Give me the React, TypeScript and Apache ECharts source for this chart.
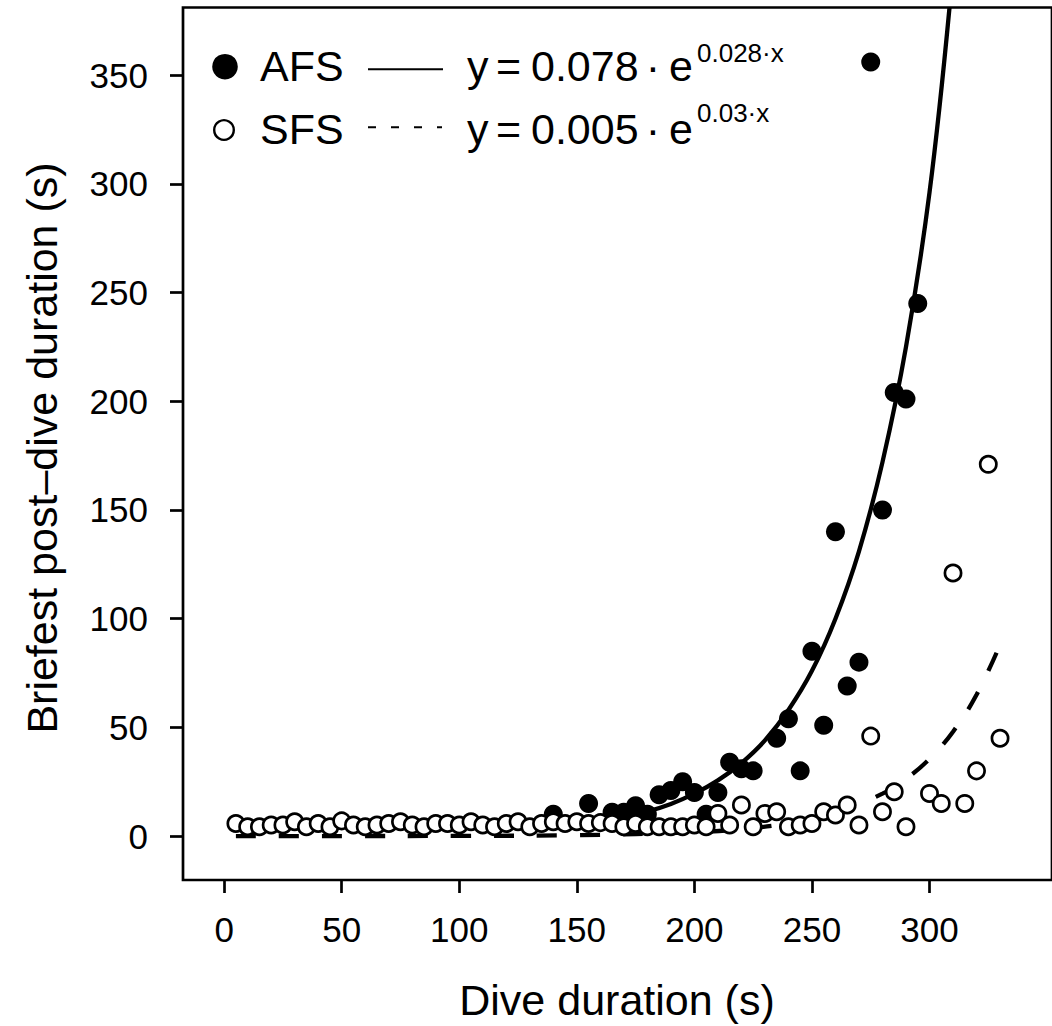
import React, { useEffect, useRef } from "react";
import * as echarts from "echarts";

// ---- data ----
const xTicks = [0, 50, 100, 150, 200, 250, 300];
const yTicks = [0, 50, 100, 150, 200, 250, 300, 350];

const afsDuration = [140, 155, 165, 170, 175, 180, 185, 190, 195, 200, 205, 210, 215, 220, 225, 235, 240, 245, 250, 255, 260, 265, 270, 275, 280, 285, 290, 295];
const afsPost = [10, 15, 11, 11, 14, 10, 19, 21, 25, 20, 10, 20, 34, 31, 30, 45, 54, 30, 85, 51, 140, 69, 80, 356, 150, 204, 201, 245];

const sfsDuration = [5, 10, 15, 20, 25, 30, 35, 40, 45, 50, 55, 60, 65, 70, 75, 80, 85, 90, 95, 100, 105, 110, 115, 120, 125, 130, 135, 140, 145, 150, 155, 160, 165, 170, 175, 180, 185, 190, 195, 200, 205, 210, 215, 220, 225, 230, 235, 240, 245, 250, 255, 260, 265, 270, 275, 280, 285, 290, 300, 305, 310, 315, 320, 325, 330];
const sfsPost = [5.8, 4.3, 4.3, 5.1, 5.1, 6.6, 4.3, 5.8, 4.3, 7.0, 5.1, 4.3, 5.1, 5.8, 6.6, 5.1, 4.3, 5.8, 5.8, 5.1, 6.6, 5.1, 4.3, 5.8, 6.6, 4.3, 5.8, 6.6, 5.8, 6.6, 5.8, 6.2, 5.8, 4.3, 5.8, 4.3, 4.3, 4.3, 4.3, 5.1, 4.3, 10.4, 5.1, 14.3, 4.3, 10.4, 11.2, 4.3, 5.1, 5.8, 11.2, 9.7, 14.3, 5.1, 46, 11.2, 20.4, 4.3, 19.6, 15, 121, 15, 30, 171, 45];

// fitted curves
const afsFitX = [140, 150, 160, 170, 180, 190, 200, 210, 220, 230, 240, 250, 260, 270, 280, 290, 300, 308.5];
const afsFitY = [3.8, 5.0, 6.6, 8.7, 11.3, 14.8, 19.5, 25.6, 33.6, 44, 58, 76, 100, 131, 172, 225, 296, 381];
const sfsFitX = [5, 50, 100, 150, 200, 220, 240, 260, 280, 290, 300, 310, 320, 330];
const sfsFitY = [0, 0.02, 0.09, 0.4, 1.8, 3.2, 5.9, 10.7, 19.5, 26.3, 35.5, 48, 65, 88];

const legendLabels = ["AFS", "SFS"];
const legendCoef = ["0.078", "0.005"];
const legendExp = ["0.028·x", "0.03·x"];

const FONT = '"Liberation Sans", Arial, Helvetica, sans-serif';

export default function App() {
  const ref = useRef<HTMLDivElement>(null);

  useEffect(() => {
    document.body.style.margin = "0";
    if (!ref.current) return;
    const chart = echarts.init(ref.current, undefined, { renderer: "svg" });

    const zip = (xs: number[], ys: number[]) => xs.map((x, i) => [x, ys[i]]);

    const rowCap = [65.5, 128.7];
    const rowSup = [52.5, 112.5];

    const legendGraphics: any[] = [];
    legendGraphics.push({
      type: "circle",
      shape: { cx: 225, cy: 66.7, r: 12.8 },
      style: { fill: "#000" },
    });
    legendGraphics.push({
      type: "circle",
      shape: { cx: 224, cy: 130, r: 9.8 },
      style: { fill: "#fff", stroke: "#000", lineWidth: 2.4 },
    });
    legendGraphics.push({
      type: "line",
      shape: { x1: 368, y1: 69.3, x2: 443, y2: 69.3 },
      style: { stroke: "#000", lineWidth: 2 },
    });
    legendGraphics.push({
      type: "line",
      shape: { x1: 368, y1: 127.3, x2: 442, y2: 127.3 },
      style: { stroke: "#000", lineWidth: 2, lineDash: [8, 15] },
    });
    const txt = (text: string, x: number, y: number, size: number, align = "left") => ({
      type: "text",
      style: {
        text,
        x,
        y,
        fontSize: size,
        fontFamily: FONT,
        fill: "#000",
        align,
        verticalAlign: "middle",
      },
    });
    for (let i = 0; i < 2; i++) {
      legendGraphics.push(txt(legendLabels[i], 260, rowCap[i], 43));
      legendGraphics.push(txt("y", 467, rowCap[i], 43));
      legendGraphics.push(txt("=", 496, rowCap[i], 43));
      legendGraphics.push(txt(legendCoef[i], 531, rowCap[i], 43));
      legendGraphics.push(txt("·", 653, rowCap[i], 43, "center"));
      legendGraphics.push(txt("e", 669, rowCap[i], 43));
      legendGraphics.push(txt(legendExp[i], 697, rowSup[i], 26));
    }

    const option: any = {
      animation: false,
      backgroundColor: "#fff",
      grid: {
        left: 183,
        right: -1,
        top: 7.5,
        bottom: 146,
        show: true,
        borderColor: "#000",
        borderWidth: 2.7,
        backgroundColor: "transparent",
        containLabel: false,
      },
      xAxis: {
        type: "value",
        min: -17.5,
        max: 352.1,
        axisLine: { show: false, onZero: false },
        splitLine: { show: false },
        axisTick: {
          show: true,
          length: 13,
          inside: false,
          customValues: xTicks,
          lineStyle: { color: "#000", width: 2.7 },
        },
        axisLabel: {
          customValues: xTicks,
          fontSize: 35,
          fontFamily: FONT,
          color: "#000",
          margin: 49,
          verticalAlign: "middle",
        },
      },
      yAxis: {
        type: "value",
        min: -20.2,
        max: 381.1,
        axisLine: { show: false, onZero: false },
        splitLine: { show: false },
        axisTick: {
          show: true,
          length: 13,
          inside: false,
          customValues: yTicks,
          lineStyle: { color: "#000", width: 2.7 },
        },
        axisLabel: {
          customValues: yTicks,
          fontSize: 35,
          fontFamily: FONT,
          color: "#000",
          margin: 35,
        },
      },
      series: [
        {
          type: "line",
          data: zip(afsFitX, afsFitY),
          smooth: 0.4,
          showSymbol: false,
          symbol: "none",
          lineStyle: { color: "#000", width: 4.3 },
          clip: true,
          z: 2,
        },
        {
          type: "line",
          data: zip(sfsFitX, sfsFitY),
          smooth: 0.4,
          showSymbol: false,
          symbol: "none",
          lineStyle: { color: "#000", width: 4.3, type: [20, 23] },
          clip: true,
          z: 2,
        },
        {
          type: "scatter",
          data: zip(afsDuration, afsPost),
          symbol: "circle",
          symbolSize: 19,
          itemStyle: { color: "#000", opacity: 1 },
          z: 3,
        },
        {
          type: "scatter",
          data: zip(sfsDuration, sfsPost),
          symbol: "circle",
          symbolSize: 16.2,
          itemStyle: { color: "#fff", borderColor: "#000", borderWidth: 2.7, opacity: 1 },
          z: 4,
        },
      ],
      graphic: [
        ...legendGraphics,
        {
          type: "text",
          style: {
            text: "Dive duration (s)",
            x: 617,
            y: 1000,
            fontSize: 43,
            fontFamily: FONT,
            fill: "#000",
            align: "center",
            verticalAlign: "middle",
          },
        },
        {
          type: "text",
          x: 42,
          y: 448,
          rotation: Math.PI / 2,
          style: {
            text: "Briefest post\u2013dive duration (s)",
            x: 0,
            y: 0,
            fontSize: 43,
            fontFamily: FONT,
            fill: "#000",
            align: "center",
            verticalAlign: "middle",
          },
        },
      ],
    };

    chart.setOption(option);
    return () => {
      chart.dispose();
    };
  }, []);

  return (
    <div
      ref={ref}
      style={{ position: "absolute", left: 0, top: 0, width: 1052, height: 1026 }}
    />
  );
}
